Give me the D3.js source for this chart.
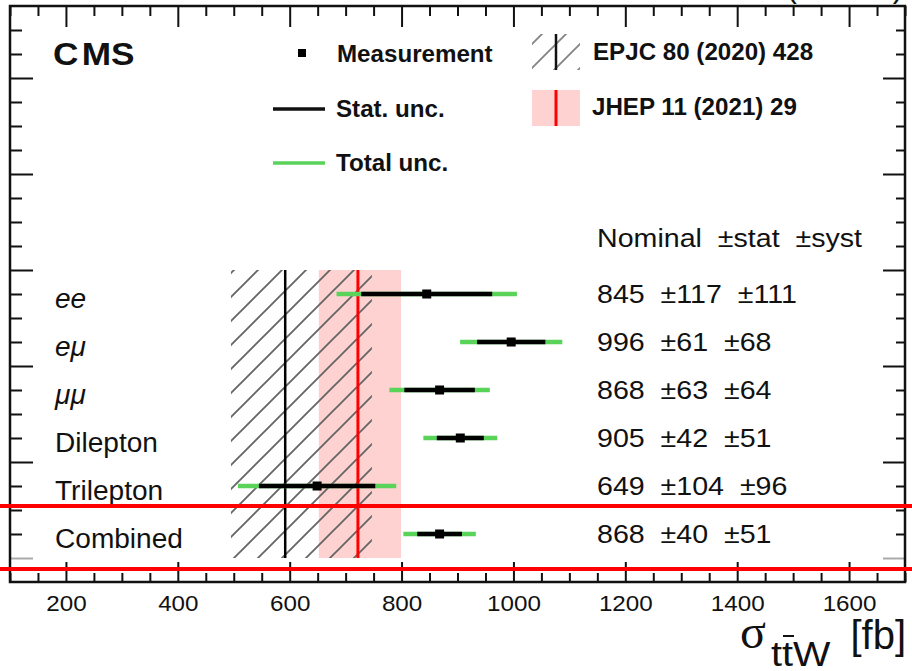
<!DOCTYPE html>
<html><head><meta charset="utf-8">
<script src="https://cdn.jsdelivr.net/npm/d3@7"></script>
<style>
html,body{margin:0;padding:0;background:#fff;}
svg{display:block;font-family:"Liberation Sans",Arial,sans-serif;}
text{white-space:pre;}
</style></head>
<body>
<svg id="chart" width="912" height="671"></svg>
<script>
// ---- data ----
const categories = ["ee", "eμ", "μμ", "Dilepton", "Trilepton", "Combined"];
const italicCat = [true, true, true, false, false, false];
const rowPos = [6, 5, 4, 3, 2, 1];
const nominal = [845, 996, 868, 905, 649, 868];
const statUnc = [117, 61, 63, 42, 104, 40];
const systUnc = [111, 68, 64, 51, 96, 51];
const predNames = ["EPJC 80 (2020) 428", "JHEP 11 (2021) 29"];
const predCentral = [592, 722];
const predLow = [495, 652];
const predHigh = [747, 799];
const xTickLabels = [200, 400, 600, 800, 1000, 1200, 1400, 1600];

const svg = d3.select("#chart");
const L = 10, R = 905, T = 6, B = 582;
const x = d3.scaleLinear().domain([100, 1700]).range([L, R]);
const y = d3.scaleLinear().domain([0, 12]).range([B, T]);
const SX = 1.1; // horizontal text stretch seen in the reference

function txt(parent, px, py, str, k = SX) {
  return parent.append("text").attr("transform", `translate(${px},${py}) scale(${k},1)`).text(str);
}

// pattern
const defs = svg.append("defs");
const pat = defs.append("pattern").attr("id", "hatch").attr("patternUnits", "userSpaceOnUse")
  .attr("width", 24).attr("height", 24);
pat.append("path").attr("d", "M-6,6 L6,-6 M0,24 L24,0 M18,30 L30,18")
  .attr("stroke", "#666").attr("stroke-width", 1.9).attr("fill", "none");

// theory bands
const bandTop = y(6.5), bandBot = y(0.5);
svg.append("rect").attr("x", x(predLow[1])).attr("y", bandTop)
  .attr("width", x(predHigh[1]) - x(predLow[1])).attr("height", bandBot - bandTop)
  .attr("fill", "#ffd2d2");
svg.append("rect").attr("x", x(predLow[0])).attr("y", bandTop)
  .attr("width", x(predHigh[0]) - x(predLow[0])).attr("height", bandBot - bandTop)
  .attr("fill", "url(#hatch)");
svg.append("line").attr("x1", x(predCentral[0])).attr("x2", x(predCentral[0]))
  .attr("y1", bandTop).attr("y2", bandBot).attr("stroke", "#000").attr("stroke-width", 2.5);
svg.append("line").attr("x1", x(predCentral[1])).attr("x2", x(predCentral[1]))
  .attr("y1", bandTop).attr("y2", bandBot).attr("stroke", "#ff0000").attr("stroke-width", 3);

// measurements
const rows = categories.map((c, i) => ({
  cat: c, pos: rowPos[i], nom: nominal[i], stat: statUnc[i], syst: systUnc[i],
  tot: Math.sqrt(statUnc[i] ** 2 + systUnc[i] ** 2), it: italicCat[i]
}));
const g = svg.append("g");
g.selectAll("line.tot").data(rows).join("line").attr("class", "tot")
  .attr("x1", d => x(d.nom - d.tot)).attr("x2", d => x(d.nom + d.tot))
  .attr("y1", d => y(d.pos)).attr("y2", d => y(d.pos))
  .attr("stroke", "#5ad35a").attr("stroke-width", 4.5);
g.selectAll("line.stat").data(rows).join("line").attr("class", "stat")
  .attr("x1", d => x(d.nom - d.stat)).attr("x2", d => x(d.nom + d.stat))
  .attr("y1", d => y(d.pos)).attr("y2", d => y(d.pos))
  .attr("stroke", "#000").attr("stroke-width", 4.5);
g.selectAll("rect.mk").data(rows).join("rect").attr("class", "mk")
  .attr("x", d => x(d.nom) - 4.5).attr("y", d => y(d.pos) - 4.5)
  .attr("width", 9).attr("height", 9).attr("fill", "#000");

// left labels
svg.selectAll("text.cat").data(rows).join("text").attr("class", "cat")
  .attr("transform", d => `translate(55,${y(d.pos) + 14}) scale(1.04,1)`)
  .attr("font-size", 27).attr("font-style", d => d.it ? "italic" : "normal")
  .attr("fill", "#111").text(d => d.cat);

// values
txt(svg, 597, 247, "Nominal  ±stat  ±syst").attr("font-size", 26).attr("fill", "#111");
svg.selectAll("text.val").data(rows).join("text").attr("class", "val")
  .attr("transform", d => `translate(597,${y(d.pos) + 9}) scale(${SX},1)`)
  .attr("font-size", 26).attr("fill", "#111")
  .text(d => `${d.nom}  ±${d.stat}  ±${d.syst}`);

// axes
const majX = xTickLabels, minX = d3.range(100, 1701, 50).filter(v => v % 200 !== 0);
const axB = svg.append("g").attr("transform", `translate(0,${B})`)
  .call(d3.axisBottom(x).tickValues(majX).tickSizeInner(-20).tickSizeOuter(0).tickPadding(6).tickFormat(d3.format("d")));
axB.select(".domain").remove();
axB.selectAll("text").attr("font-size", 22).attr("font-family", "Liberation Sans, Arial")
  .attr("fill", "#111").attr("dy", "1.05em").attr("transform", `scale(${SX},1)`);
const axBm = svg.append("g").attr("transform", `translate(0,${B})`)
  .call(d3.axisBottom(x).tickValues(minX).tickSizeInner(-9).tickSizeOuter(0).tickFormat(""));
axBm.select(".domain").remove();
const axT = svg.append("g").attr("transform", `translate(0,${T})`)
  .call(d3.axisTop(x).tickValues(majX).tickSizeInner(-21).tickSizeOuter(0).tickFormat(""));
axT.select(".domain").remove();
const axTm = svg.append("g").attr("transform", `translate(0,${T})`)
  .call(d3.axisTop(x).tickValues(minX).tickSizeInner(-10).tickSizeOuter(0).tickFormat(""));
axTm.select(".domain").remove();

const majY = d3.range(0.5, 12, 2), minY = d3.range(0.5, 12, 0.5).filter(v => !majY.includes(v));
const axL = svg.append("g").attr("transform", `translate(${L},0)`)
  .call(d3.axisLeft(y).tickValues(majY).tickSizeInner(-23).tickSizeOuter(0).tickFormat(""));
axL.select(".domain").remove();
const axLm = svg.append("g").attr("transform", `translate(${L},0)`)
  .call(d3.axisLeft(y).tickValues(minY).tickSizeInner(-12).tickSizeOuter(0).tickFormat(""));
axLm.select(".domain").remove();
const axR = svg.append("g").attr("transform", `translate(${R},0)`)
  .call(d3.axisRight(y).tickValues(majY).tickSizeInner(-22).tickSizeOuter(0).tickFormat(""));
axR.select(".domain").remove();
const axRm = svg.append("g").attr("transform", `translate(${R},0)`)
  .call(d3.axisRight(y).tickValues(minY).tickSizeInner(-9).tickSizeOuter(0).tickFormat(""));
axRm.select(".domain").remove();
svg.selectAll(".tick line").attr("stroke", "#111").attr("stroke-width", 2);
[axL, axR].forEach(a => a.selectAll(".tick").filter(d => d === 0.5).select("line").attr("stroke", "#aaa"));

svg.append("rect").attr("x", L).attr("y", T).attr("width", R - L).attr("height", B - T)
  .attr("fill", "none").attr("stroke", "#111").attr("stroke-width", 2.5);

// axis title
const tt = svg.append("g").attr("fill", "#111");
tt.append("text").attr("x", 740).attr("y", 648).attr("font-family", "Liberation Serif, serif")
  .attr("font-size", 48).text("σ");
txt(tt, 771, 666, "ttW", 1.1).attr("font-size", 36);
tt.append("line").attr("x1", 783).attr("x2", 794).attr("y1", 636).attr("y2", 636)
  .attr("stroke", "#111").attr("stroke-width", 2);
tt.append("text").attr("x", 906).attr("y", 649).attr("text-anchor", "end").attr("font-size", 40).text("[fb]");

// top cut lumi text
svg.append("text").attr("x", 903).attr("y", -3).attr("text-anchor", "end").attr("font-size", 31)
  .attr("fill", "#111").text("(13 TeV)");

// CMS
txt(svg, 53, 65, "").attr("font-size", 32).attr("font-weight", "bold").attr("fill", "#111")
  .html('C<tspan dx="3">MS</tspan>');

// legend
const lg = svg.append("g").attr("font-weight", "bold").attr("font-size", 23).attr("fill", "#111");
lg.append("rect").attr("x", 298).attr("y", 49).attr("width", 8).attr("height", 8).attr("fill", "#000");
txt(lg, 337, 62, "Measurement", 1.05);
lg.append("line").attr("x1", 273).attr("x2", 325).attr("y1", 109).attr("y2", 109).attr("stroke", "#111").attr("stroke-width", 3.5);
txt(lg, 336, 117, "Stat. unc.", 1.05);
lg.append("line").attr("x1", 273).attr("x2", 325).attr("y1", 163).attr("y2", 163).attr("stroke", "#5ad35a").attr("stroke-width", 3.5);
txt(lg, 336, 171, "Total unc.", 1.05);
lg.append("rect").attr("x", 532).attr("y", 34).attr("width", 48).attr("height", 36).attr("fill", "url(#hatch)").attr("opacity", 0.8);
lg.append("line").attr("x1", 556).attr("x2", 556).attr("y1", 34).attr("y2", 70).attr("stroke", "#111").attr("stroke-width", 2.5);
txt(lg, 593, 60, predNames[0], 1.05);
lg.append("rect").attr("x", 532).attr("y", 90).attr("width", 48).attr("height", 36).attr("fill", "#ffd2d2");
lg.append("line").attr("x1", 556).attr("x2", 556).attr("y1", 90).attr("y2", 126).attr("stroke", "#ff0000").attr("stroke-width", 3);
txt(lg, 592, 115, predNames[1], 1.05);

// red highlight lines
[506, 569].forEach(yy => svg.append("line").attr("x1", 0).attr("x2", 912).attr("y1", yy).attr("y2", yy)
  .attr("stroke", "#ff0000").attr("stroke-width", 4));
</script>
</body></html>
